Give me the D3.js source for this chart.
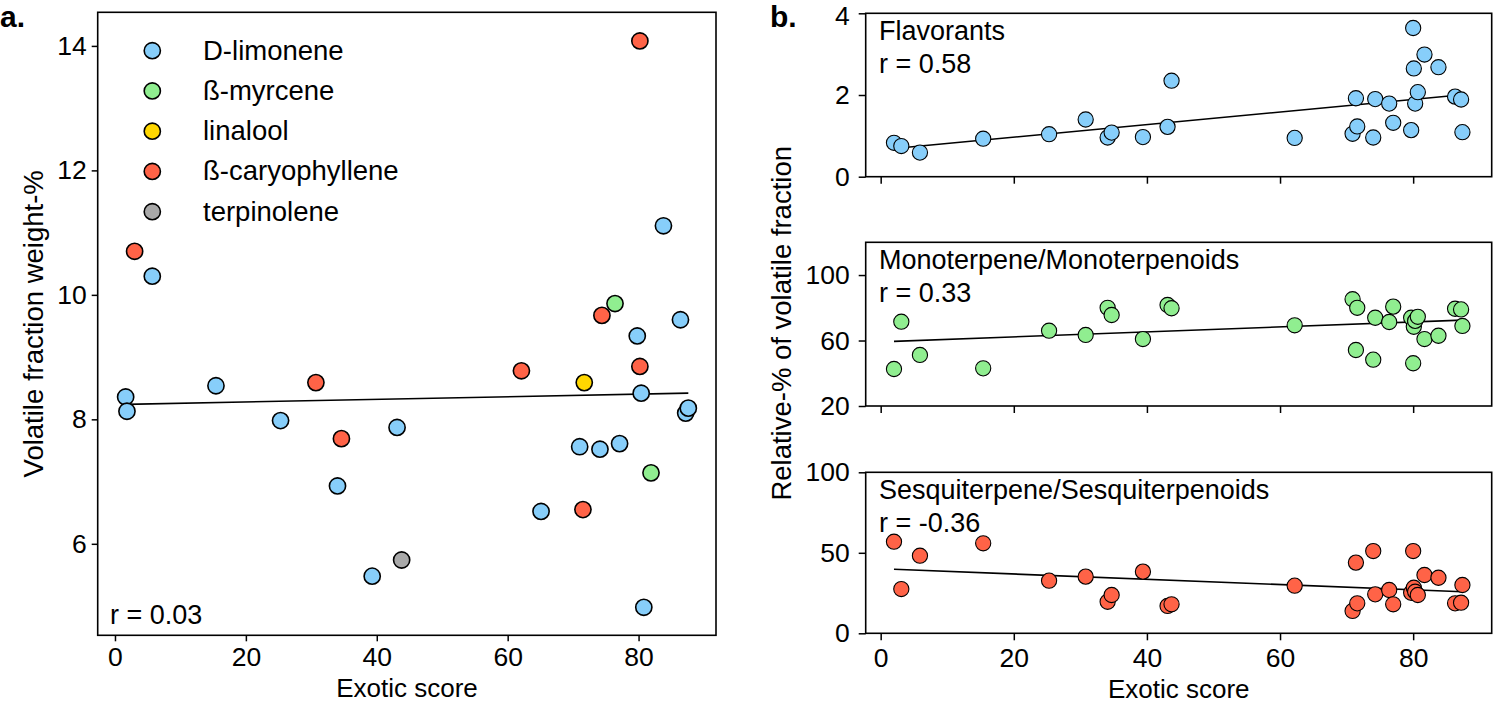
<!DOCTYPE html>
<html><head><meta charset="utf-8">
<script src="https://cdn.jsdelivr.net/npm/d3@7"></script>
<style>
body{margin:0;background:#fff}
svg{display:block}
text{font-family:"Liberation Sans",Arial,Helvetica,sans-serif;fill:#000}
</style>
</head><body>
<svg id="chart" width="1493" height="705"></svg>
<script>
// ---------- DATA ----------
const compounds = ["D-limonene", "ß-myrcene", "linalool", "ß-caryophyllene", "terpinolene"];
const compoundColors = ["#87CEFA", "#90EE90", "#FFD700", "#FF6347", "#A9A9A9"];

// panel a: exotic score, volatile fraction weight-%, dominant compound (index into compounds)
const exoticA   = [1.63, 1.83, 5.7, 15.43, 25.3, 34.0, 39.3, 43.1, 65.1, 71.0, 74.1, 77.1, 79.8, 80.4, 80.8, 83.8, 86.4, 87.2, 87.6,
                   76.4, 81.9,
                   71.7,
                   80.2, 3.0, 30.7, 34.6, 62.1, 74.4, 80.2, 71.5,
                   43.8];
const volatileA = [8.36, 8.13, 10.30, 8.54, 7.98, 6.93, 5.48, 7.87, 6.52, 7.56, 7.52, 7.61, 9.34, 8.42, 4.98, 11.11, 9.60, 8.10, 8.18,
                   9.86, 7.14,
                   8.59,
                   14.08, 10.70, 8.59, 7.69, 8.78, 9.67, 8.85, 6.55,
                   5.74];
const dominantA = [0,0,0,0,0,0,0,0,0,0,0,0,0,0,0,0,0,0,0,
                   1,1,
                   2,
                   3,3,3,3,3,3,3,3,
                   4];
const fitA = [8.237, 0.0021];          // intercept, slope
const rLabelA = "r = 0.03";
const xTicks = [0, 20, 40, 60, 80];
const yTicksA = [6, 8, 10, 12, 14];

// panel b
const exoticB = [2.0, 3.1, 5.9, 15.4, 25.3, 30.8, 34.1, 34.7, 39.4, 43.1, 43.7, 62.2, 70.9, 71.4, 71.6,
                 74.0, 74.3, 76.4, 77.0, 79.7, 80.0, 80.1, 80.3, 80.7, 81.7, 83.8, 86.3, 87.2, 87.4];
const flavorants = [0.83, 0.75, 0.59, 0.93, 1.04, 1.40, 0.96, 1.08, 0.97, 1.22, 2.35, 0.95, 1.05, 1.92, 1.23,
                    0.96, 1.90, 1.79, 1.32, 1.14, 3.64, 2.65, 1.79, 2.07, 2.99, 2.68, 1.96, 1.89, 1.09];
const monoterpenes = [42.6, 71.5, 51.2, 43.0, 66.0, 63.4, 80.0, 75.6, 60.9, 81.7, 79.7, 69.3, 85.2, 54.2, 80.0,
                      48.3, 73.9, 71.3, 80.7, 73.9, 46.1, 68.4, 72.0, 74.5, 60.9, 62.9, 79.4, 79.0, 68.9];
const sesquiterpenes = [56.9, 27.5, 48.2, 55.9, 32.7, 35.2, 19.6, 23.8, 38.3, 17.0, 18.0, 29.6, 13.9, 43.9, 18.6,
                        51.1, 24.2, 26.9, 18.0, 25.2, 51.1, 28.3, 25.8, 23.8, 36.2, 34.5, 18.6, 19.0, 30.0];
const groupNames = ["Flavorants", "Monoterpene/Monoterpenoids", "Sesquiterpene/Sesquiterpenoids"];
const groupR = ["r = 0.58", "r = 0.33", "r = -0.36"];
const groupFits = [[0.66, 0.0154], [59.2, 0.152], [40.1, -0.1636]];
const groupColors = ["#87CEFA", "#90EE90", "#FF6347"];
const yTicksB = [[0, 2, 4], [20, 60, 100], [0, 50, 100]];
const yDomainsB = [[0, 4], [20, 120], [0, 100]];

// ---------- DRAW ----------
const svg = d3.select("#chart");
const FS_TICK = 26.5, FS_ANN = 27, FS_LEG = 27.5, FS_LAB = 26, FS_YLAB = 27.5;

function styleAxis(g, fs) {
  g.select(".domain").remove();
  g.selectAll(".tick line").attr("stroke", "#000").attr("stroke-width", 1.5);
  g.selectAll(".tick text").attr("font-size", fs).attr("fill", "#000")
    .attr("font-family", '"Liberation Sans",Arial,sans-serif');
}

// ===== Panel a =====
const A = {l: 97.7, t: 12.3, r: 716, b: 635.3};
const xA = d3.scaleLinear().domain([-2.64, 91.83]).range([A.l, A.r]);
const yA = d3.scaleLinear().domain([4.53, 14.54]).range([A.b, A.t]);

const gA = svg.append("g");
gA.append("g").attr("transform", `translate(0,${A.b})`)
  .call(d3.axisBottom(xA).tickValues(xTicks).tickSize(6).tickPadding(6).tickFormat(d3.format("d")))
  .call(g => styleAxis(g, FS_TICK));
gA.append("g").attr("transform", `translate(${A.l},0)`)
  .call(d3.axisLeft(yA).tickValues(yTicksA).tickSize(6).tickPadding(5).tickFormat(d3.format("d")))
  .call(g => styleAxis(g, FS_TICK));

// fit line
const xMinA = d3.min(exoticA), xMaxA = d3.max(exoticA);
gA.append("line")
  .attr("x1", xA(xMinA)).attr("y1", yA(fitA[0] + fitA[1] * xMinA))
  .attr("x2", xA(xMaxA)).attr("y2", yA(fitA[0] + fitA[1] * xMaxA))
  .attr("stroke", "#000").attr("stroke-width", 1.6);

const ptsA = exoticA.map((x, i) => ({x, y: volatileA[i], c: dominantA[i]}));
gA.append("g").selectAll("circle").data(ptsA).join("circle")
  .attr("cx", d => xA(d.x)).attr("cy", d => yA(d.y)).attr("r", 8.1)
  .attr("fill", d => compoundColors[d.c]).attr("stroke", "#000").attr("stroke-width", 1.6);

// legend
const leg = gA.append("g");
compounds.forEach((name, i) => {
  const yy = 50.7 + i * 40.25;
  leg.append("circle").attr("cx", 152.3).attr("cy", yy).attr("r", 8.1)
    .attr("fill", compoundColors[i]).attr("stroke", "#000").attr("stroke-width", 1.6);
  leg.append("text").attr("x", 203).attr("y", yy + 9).attr("font-size", FS_LEG).text(name);
});

gA.append("text").attr("x", 110).attr("y", 624).attr("font-size", FS_ANN).text(rLabelA);

gA.append("rect").attr("x", A.l).attr("y", A.t).attr("width", A.r - A.l).attr("height", A.b - A.t)
  .attr("fill", "none").attr("stroke", "#000").attr("stroke-width", 1.6);

gA.append("text").attr("x", 407).attr("y", 697).attr("text-anchor", "middle")
  .attr("font-size", FS_LAB).text("Exotic score");
gA.append("text").attr("transform", `translate(43,${(A.t + A.b) / 2}) rotate(-90)`)
  .attr("text-anchor", "middle").attr("font-size", FS_YLAB).text("Volatile fraction weight-%");
svg.append("text").attr("x", 0).attr("y", 27).attr("font-size", 30).attr("font-weight", "bold").text("a.");

// ===== Panel b =====
const B = {l: 865.7, r: 1491.7};
const tops = [13.3, 242.3, 472.3], bots = [176.7, 406, 633.3];
const xB = d3.scaleLinear().domain([-2.25, 91.8]).range([B.l, B.r]);
const seriesB = [flavorants, monoterpenes, sesquiterpenes];

seriesB.forEach((vals, k) => {
  const t = tops[k], b = bots[k];
  const yB = d3.scaleLinear().domain(yDomainsB[k]).range([b, t]);
  const g = svg.append("g");
  const xa = d3.axisBottom(xB).tickValues(xTicks).tickSize(7).tickPadding(8).tickFormat(d3.format("d"));
  if (k < 2) xa.tickFormat(() => "");
  g.append("g").attr("transform", `translate(0,${b})`).call(xa).call(gg => styleAxis(gg, FS_TICK));
  const ya = g.append("g").attr("transform", `translate(${B.l},0)`)
    .call(d3.axisLeft(yB).tickValues(yTicksB[k]).tickSize(7).tickPadding(9).tickFormat(d3.format("d")))
    .call(gg => styleAxis(gg, FS_TICK));
  if (k === 0) {
    // keep the topmost tick label inside the page
    ya.selectAll(".tick text").filter(d => d === yDomainsB[k][1]).attr("dy", "0.42em");
  }

  const fit = groupFits[k];
  const x0 = d3.min(exoticB), x1 = d3.max(exoticB);
  g.append("line")
    .attr("x1", xB(x0)).attr("y1", yB(fit[0] + fit[1] * x0))
    .attr("x2", xB(x1)).attr("y2", yB(fit[0] + fit[1] * x1))
    .attr("stroke", "#000").attr("stroke-width", 1.6);

  g.append("g").selectAll("circle").data(exoticB.map((x, i) => ({x, y: vals[i]}))).join("circle")
    .attr("cx", d => xB(d.x)).attr("cy", d => yB(d.y)).attr("r", 7.6)
    .attr("fill", groupColors[k]).attr("stroke", "#000").attr("stroke-width", 1.1);

  g.append("text").attr("x", 879).attr("y", t + 26.5).attr("font-size", FS_ANN).text(groupNames[k]);
  g.append("text").attr("x", 879).attr("y", t + 59.5).attr("font-size", FS_ANN).text(groupR[k]);

  g.append("rect").attr("x", B.l).attr("y", t).attr("width", B.r - B.l).attr("height", b - t)
    .attr("fill", "none").attr("stroke", "#000").attr("stroke-width", 1.6);
});

svg.append("text").attr("x", (B.l + B.r) / 2).attr("y", 698).attr("text-anchor", "middle")
  .attr("font-size", FS_LAB).text("Exotic score");
svg.append("text").attr("transform", `translate(791,${(tops[0] + bots[2]) / 2}) rotate(-90)`)
  .attr("text-anchor", "middle").attr("font-size", FS_YLAB).text("Relative-% of volatile fraction");
svg.append("text").attr("x", 770).attr("y", 27).attr("font-size", 30).attr("font-weight", "bold").text("b.");
</script>
</body></html>
